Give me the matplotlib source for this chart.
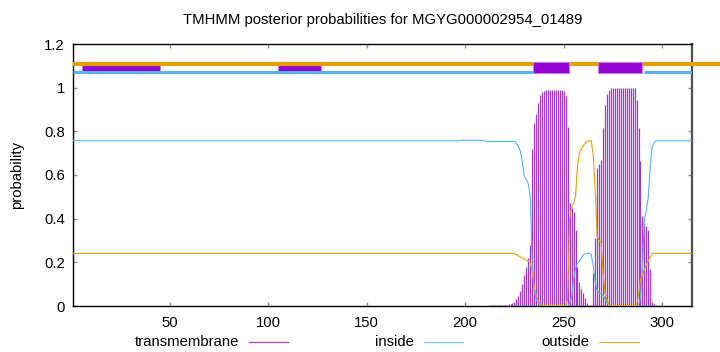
#!/usr/bin/env python3
"""
TMHMM posterior probabilities plot (gnuplot look) for MGYG000002954_01489.
"""

import matplotlib
matplotlib.use("Agg")
import matplotlib.pyplot as plt
from matplotlib.lines import Line2D

TITLE = "TMHMM posterior probabilities for MGYG000002954_01489"
SEQ_LEN = 315

# posterior values, residues 1..204 are flat
HEAD_TM = [0.0] * 204
HEAD_INSIDE = [0.757] * 196 + [0.759] * 8
HEAD_OUTSIDE = [0.241] * 204

# residues 205..299
MID_TM = ([0.0] * 7 + [0.005] * 10
          + [0.008, 0.01, 0.012, 0.02, 0.03, 0.045, 0.07, 0.10, 0.14, 0.18,
             0.22, 0.28, 0.72, 0.84, 0.88, 0.93, 0.965, 0.98, 0.985]
          + [0.99] * 9
          + [0.985, 0.96, 0.82, 0.47, 0.45, 0.43, 0.35, 0.18, 0.11, 0.08,
             0.06, 0.035, 0.015, 0.005, 0.003, 0.15, 0.31, 0.63, 0.65, 0.67,
             0.815, 0.92, 0.97, 0.99]
          + [0.998] * 13
          + [0.945, 0.815, 0.665, 0.41, 0.38, 0.365, 0.35, 0.17, 0.02, 0.01,
             0.003, 0.0, 0.0])
MID_INSIDE = ([0.759] * 5 + [0.756] + [0.753] * 15
              + [0.745, 0.73, 0.71, 0.66, 0.594, 0.58, 0.56, 0.50, 0.20, 0.07,
                 0.03, 0.015]
              + [0.003] * 15
              + [0.01, 0.04, 0.12, 0.17, 0.195, 0.205, 0.22, 0.235, 0.24, 0.242,
                 0.242, 0.235, 0.184, 0.11, 0.07, 0.06, 0.055, 0.05, 0.03, 0.015,
                 0.005]
              + [0.002] * 15
              + [0.04, 0.18, 0.40, 0.44, 0.50, 0.65, 0.73, 0.75]
              + [0.757] * 3)
MID_OUTSIDE = ([0.241] * 19
               + [0.24, 0.24, 0.235, 0.23, 0.225, 0.22, 0.215, 0.21, 0.205, 0.20,
                  0.155, 0.09, 0.05, 0.025, 0.01]
               + [0.003] * 13
               + [0.03, 0.40, 0.45, 0.47, 0.50, 0.64, 0.70, 0.72, 0.735, 0.745,
                  0.755, 0.757, 0.757, 0.69, 0.53, 0.32, 0.30, 0.29, 0.15, 0.06,
                  0.025, 0.01]
               + [0.002] * 14
               + [0.05, 0.12, 0.14, 0.17, 0.19, 0.21, 0.225, 0.24, 0.241]
               + [0.241] * 3)

# residues 300..315
TAIL_TM = [0.0] * 16
TAIL_INSIDE = [0.757] * 16
TAIL_OUTSIDE = [0.241] * 16

# topology strip at the top
INSIDE_SEGS = [(1, 234.3), (290.8, 315)]
TM_SEGS_BACK = [(5.4, 45.0), (105.0, 126.8)]
TM_SEGS = [(234.3, 252.9), (267.6, 289.9)]

C_TM = "#9400d3"
C_IN = "#56b4e9"
C_OUT = "#e69f00"


def main() -> None:
    tm = HEAD_TM + MID_TM + TAIL_TM
    inside = HEAD_INSIDE + MID_INSIDE + TAIL_INSIDE
    outside = HEAD_OUTSIDE + MID_OUTSIDE + TAIL_OUTSIDE
    res = list(range(1, SEQ_LEN + 1))

    plt.rcParams["font.family"] = ["Liberation Sans", "DejaVu Sans"]
    fig = plt.figure(figsize=(7.2, 3.52), dpi=100)
    ax = fig.add_axes([73.3 / 720, 46 / 352, (691.7 - 73.3) / 720, (306 - 44) / 352])

    ax.vlines(res, 0, tm, color="#a236d8", lw=0.9, zorder=2)
    ax.plot(res, inside, color=C_IN, lw=0.8, zorder=3)
    ax.plot(res, outside, color=C_OUT, lw=0.8, zorder=3)

    # topology strip
    ax.broken_barh([(a, b - a) for a, b in TM_SEGS_BACK], (1.068, 0.048),
                   facecolor=C_TM, edgecolor="#c080e8", lw=0.8, zorder=3)
    ax.plot([1, 330], [1.11, 1.11], color=C_OUT, lw=3.0, clip_on=False,
            solid_capstyle="butt", zorder=4)
    for a, b in INSIDE_SEGS:
        ax.plot([a, b], [1.07, 1.07], color=C_IN, lw=2.2,
                solid_capstyle="butt", zorder=4)
    ax.broken_barh([(a, b - a) for a, b in TM_SEGS], (1.068, 0.048),
                   facecolor=C_TM, edgecolor="#c080e8", lw=0.8, zorder=5)

    ax.set_xlim(1, SEQ_LEN)
    ax.set_ylim(0, 1.2)
    ax.set_xticks([50, 100, 150, 200, 250, 300])
    ax.set_yticks([0, 0.2, 0.4, 0.6, 0.8, 1.0, 1.2])
    ax.set_yticklabels(["0", "0.2", "0.4", "0.6", "0.8", "1", "1.2"])
    ax.tick_params(direction="in", length=3, width=1, color="#909090",
                   labelsize=10.7, top=True, right=True)
    ax.tick_params(axis="y", pad=6)
    ax.tick_params(axis="x", pad=7)
    for side in ["left", "bottom", "top"]:
        ax.spines[side].set_color("black")
        ax.spines[side].set_linewidth(1.0)
    ax.spines["right"].set_color("#505050")
    ax.spines["right"].set_linewidth(1.6)

    fig.text(382.5 / 720, 1 - 20 / 352, TITLE, ha="center", va="center", fontsize=10.7)
    fig.text(17 / 720, 1 - 175 / 352, "probability", ha="center", va="center",
             rotation=90, fontsize=10.7)

    # gnuplot style key along the bottom
    key_y = 1 - 342 / 352
    for label, color, x_txt, x0, x1 in [
        ("transmembrane", "#a040d0", 239, 249, 288),
        ("inside", "#80c8ec", 414, 424, 463),
        ("outside", "#eab040", 589, 599, 639),
    ]:
        fig.text(x_txt / 720, key_y, label, ha="right", va="center", fontsize=10.7)
        fig.add_artist(Line2D([x0 / 720, x1 / 720], [key_y, key_y], color=color, lw=0.9))

    fig.savefig("out.png", dpi=100)
    plt.close(fig)


if __name__ == "__main__":
    main()
